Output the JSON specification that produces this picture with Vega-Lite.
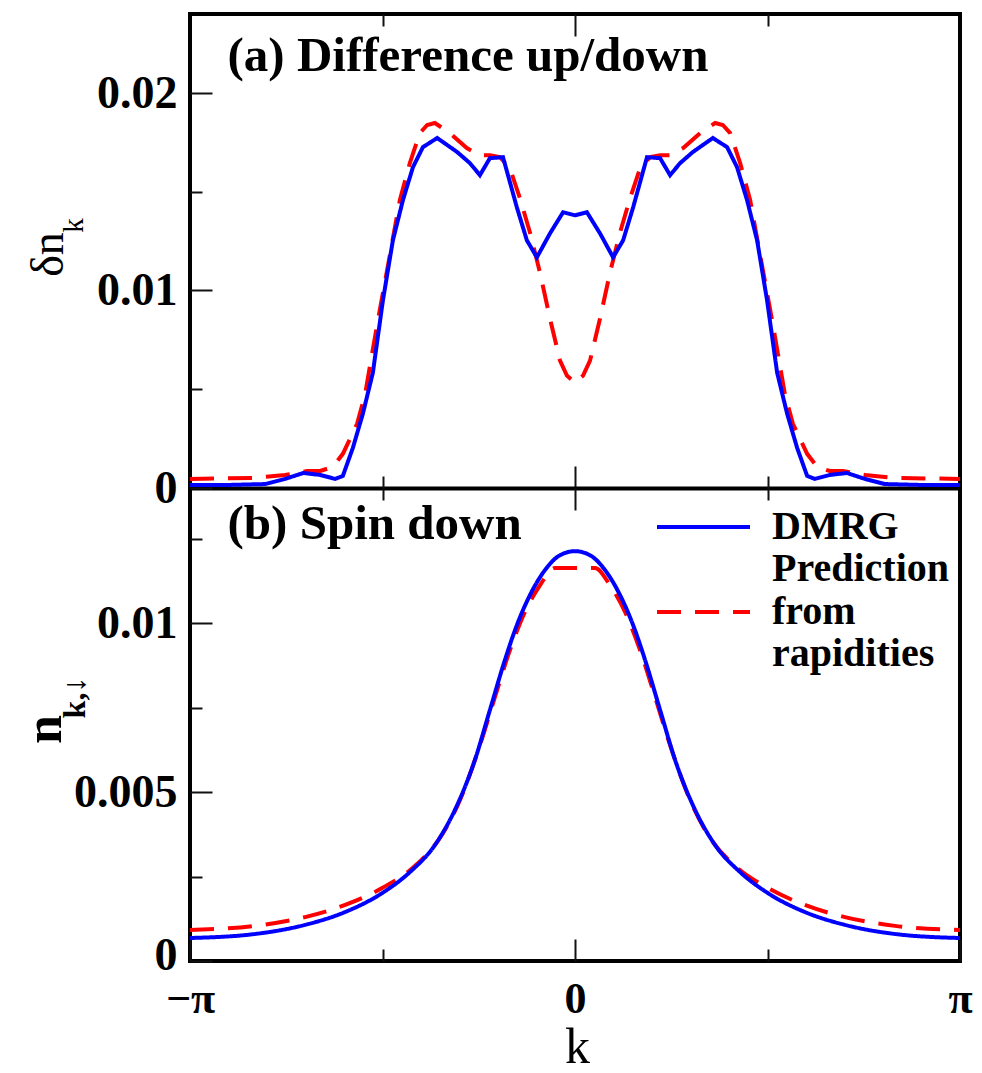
{
  "$schema": "https://vega.github.io/schema/vega-lite/v6.json",
  "width": 770,
  "height": 947,
  "autosize": {"type": "none"},
  "padding": {"left": 190, "top": 14, "right": 22, "bottom": 112},
  "background": "white",
  "config": {
    "view": {"stroke": "black", "strokeWidth": 4},
    "axis": {"grid": false, "domain": false, "tickColor": "#111111", "tickWidth": 2, "labels": false, "labelFont": "Liberation Serif", "labelFontWeight": "bold", "labelFontSize": 46, "labelColor": "black", "titleFont": "Liberation Serif", "titleColor": "black"},
    "legend": {"orient": "none", "title": null, "labelFont": "Liberation Serif", "labelFontWeight": "bold", "labelFontSize": 40, "labelColor": "black", "labelOffset": 20, "labelLimit": 500, "symbolType": "stroke", "symbolSize": 8649, "symbolStrokeWidth": 4, "rowPadding": 0}
  },
  "datasets": {
    "top": [
      {"s":"Prediction","k":-1,"v":0.00046},{"s":"Prediction","k":-0.831,"v":0.00051},{"s":"Prediction","k":-0.753,"v":0.00066},{"s":"Prediction","k":-0.696,"v":0.00086},{"s":"Prediction","k":-0.662,"v":0.00086},{"s":"Prediction","k":-0.629,"v":0.00107},{"s":"Prediction","k":-0.603,"v":0.00173},{"s":"Prediction","k":-0.566,"v":0.00325},{"s":"Prediction","k":-0.545,"v":0.00477},{"s":"Prediction","k":-0.514,"v":0.00827},{"s":"Prediction","k":-0.481,"v":0.01178},{"s":"Prediction","k":-0.455,"v":0.01457},{"s":"Prediction","k":-0.429,"v":0.01645},{"s":"Prediction","k":-0.403,"v":0.01797},{"s":"Prediction","k":-0.384,"v":0.01838},{"s":"Prediction","k":-0.364,"v":0.01848},{"s":"Prediction","k":-0.325,"v":0.01797},{"s":"Prediction","k":-0.281,"v":0.01721},{"s":"Prediction","k":-0.247,"v":0.01685},{"s":"Prediction","k":-0.221,"v":0.01685},{"s":"Prediction","k":-0.195,"v":0.01675},{"s":"Prediction","k":-0.169,"v":0.01619},{"s":"Prediction","k":-0.143,"v":0.01467},{"s":"Prediction","k":-0.117,"v":0.01294},{"s":"Prediction","k":-0.091,"v":0.01091},{"s":"Prediction","k":-0.065,"v":0.00858},{"s":"Prediction","k":-0.039,"v":0.00645},{"s":"Prediction","k":-0.021,"v":0.00569},
      {"s":"Prediction","k":0,"v":0.00533},
      {"s":"Prediction","k":0.021,"v":0.00569},{"s":"Prediction","k":0.039,"v":0.00645},{"s":"Prediction","k":0.065,"v":0.00858},{"s":"Prediction","k":0.091,"v":0.01091},{"s":"Prediction","k":0.117,"v":0.01294},{"s":"Prediction","k":0.143,"v":0.01467},{"s":"Prediction","k":0.169,"v":0.01619},{"s":"Prediction","k":0.195,"v":0.01675},{"s":"Prediction","k":0.221,"v":0.01685},{"s":"Prediction","k":0.247,"v":0.01685},{"s":"Prediction","k":0.281,"v":0.01721},{"s":"Prediction","k":0.325,"v":0.01797},{"s":"Prediction","k":0.364,"v":0.01848},{"s":"Prediction","k":0.384,"v":0.01838},{"s":"Prediction","k":0.403,"v":0.01797},{"s":"Prediction","k":0.429,"v":0.01645},{"s":"Prediction","k":0.455,"v":0.01457},{"s":"Prediction","k":0.481,"v":0.01178},{"s":"Prediction","k":0.514,"v":0.00827},{"s":"Prediction","k":0.545,"v":0.00477},{"s":"Prediction","k":0.566,"v":0.00325},{"s":"Prediction","k":0.603,"v":0.00173},{"s":"Prediction","k":0.629,"v":0.00107},{"s":"Prediction","k":0.662,"v":0.00086},{"s":"Prediction","k":0.696,"v":0.00086},{"s":"Prediction","k":0.753,"v":0.00066},{"s":"Prediction","k":0.831,"v":0.00051},{"s":"Prediction","k":1,"v":0.00046},
      {"s":"DMRG","k":-1,"v":0.00015},{"s":"DMRG","k":-0.909,"v":0.00015},{"s":"DMRG","k":-0.805,"v":0.0002},{"s":"DMRG","k":-0.753,"v":0.00046},{"s":"DMRG","k":-0.706,"v":0.00076},{"s":"DMRG","k":-0.662,"v":0.00066},{"s":"DMRG","k":-0.623,"v":0.00046},{"s":"DMRG","k":-0.603,"v":0.00061},{"s":"DMRG","k":-0.577,"v":0.00203},{"s":"DMRG","k":-0.551,"v":0.00376},{"s":"DMRG","k":-0.525,"v":0.00584},{"s":"DMRG","k":-0.499,"v":0.00949},{"s":"DMRG","k":-0.473,"v":0.01254},{"s":"DMRG","k":-0.447,"v":0.01457},{"s":"DMRG","k":-0.421,"v":0.01624},{"s":"DMRG","k":-0.395,"v":0.01726},{"s":"DMRG","k":-0.358,"v":0.01772},{"s":"DMRG","k":-0.306,"v":0.01701},{"s":"DMRG","k":-0.273,"v":0.01645},{"s":"DMRG","k":-0.247,"v":0.01584},{"s":"DMRG","k":-0.221,"v":0.0167},{"s":"DMRG","k":-0.187,"v":0.01675},{"s":"DMRG","k":-0.151,"v":0.01421},{"s":"DMRG","k":-0.125,"v":0.01254},{"s":"DMRG","k":-0.099,"v":0.01168},{"s":"DMRG","k":-0.065,"v":0.01289},{"s":"DMRG","k":-0.031,"v":0.01396},
      {"s":"DMRG","k":0,"v":0.01381},
      {"s":"DMRG","k":0.031,"v":0.01396},{"s":"DMRG","k":0.065,"v":0.01289},{"s":"DMRG","k":0.099,"v":0.01168},{"s":"DMRG","k":0.125,"v":0.01254},{"s":"DMRG","k":0.151,"v":0.01421},{"s":"DMRG","k":0.187,"v":0.01675},{"s":"DMRG","k":0.221,"v":0.0167},{"s":"DMRG","k":0.247,"v":0.01584},{"s":"DMRG","k":0.273,"v":0.01645},{"s":"DMRG","k":0.306,"v":0.01701},{"s":"DMRG","k":0.358,"v":0.01772},{"s":"DMRG","k":0.395,"v":0.01726},{"s":"DMRG","k":0.421,"v":0.01624},{"s":"DMRG","k":0.447,"v":0.01457},{"s":"DMRG","k":0.473,"v":0.01254},{"s":"DMRG","k":0.499,"v":0.00949},{"s":"DMRG","k":0.525,"v":0.00584},{"s":"DMRG","k":0.551,"v":0.00376},{"s":"DMRG","k":0.577,"v":0.00203},{"s":"DMRG","k":0.603,"v":0.00061},{"s":"DMRG","k":0.623,"v":0.00046},{"s":"DMRG","k":0.662,"v":0.00066},{"s":"DMRG","k":0.706,"v":0.00076},{"s":"DMRG","k":0.753,"v":0.00046},{"s":"DMRG","k":0.805,"v":0.0002},{"s":"DMRG","k":0.909,"v":0.00015},{"s":"DMRG","k":1,"v":0.00015}
    ],
    "bottom": [
      {"s":"Prediction","k":-1,"v":0.00092},{"s":"Prediction","k":-0.831,"v":0.00104},{"s":"Prediction","k":-0.701,"v":0.0013},{"s":"Prediction","k":-0.597,"v":0.00166},{"s":"Prediction","k":-0.501,"v":0.00216},{"s":"Prediction","k":-0.416,"v":0.00281},{"s":"Prediction","k":-0.351,"v":0.00364},{"s":"Prediction","k":-0.299,"v":0.00476},{"s":"Prediction","k":-0.247,"v":0.00639},{"s":"Prediction","k":-0.208,"v":0.00781},{"s":"Prediction","k":-0.169,"v":0.0092},{"s":"Prediction","k":-0.13,"v":0.01033},{"s":"Prediction","k":-0.091,"v":0.01112},{"s":"Prediction","k":-0.052,"v":0.01163},
      {"s":"Prediction","k":0,"v":0.01163},
      {"s":"Prediction","k":0.052,"v":0.01163},{"s":"Prediction","k":0.091,"v":0.01112},{"s":"Prediction","k":0.13,"v":0.01033},{"s":"Prediction","k":0.169,"v":0.0092},{"s":"Prediction","k":0.208,"v":0.00781},{"s":"Prediction","k":0.247,"v":0.00639},{"s":"Prediction","k":0.299,"v":0.00476},{"s":"Prediction","k":0.351,"v":0.00364},{"s":"Prediction","k":0.416,"v":0.00281},{"s":"Prediction","k":0.501,"v":0.00216},{"s":"Prediction","k":0.597,"v":0.00166},{"s":"Prediction","k":0.701,"v":0.0013},{"s":"Prediction","k":0.831,"v":0.00104},{"s":"Prediction","k":1,"v":0.00092},
      {"s":"DMRG","k":-1,"v":0.00068},{"s":"DMRG","k":-0.831,"v":0.0008},{"s":"DMRG","k":-0.701,"v":0.00107},{"s":"DMRG","k":-0.597,"v":0.00145},{"s":"DMRG","k":-0.501,"v":0.00201},{"s":"DMRG","k":-0.429,"v":0.00263},{"s":"DMRG","k":-0.364,"v":0.00343},{"s":"DMRG","k":-0.312,"v":0.00447},{"s":"DMRG","k":-0.26,"v":0.00595},{"s":"DMRG","k":-0.221,"v":0.00743},{"s":"DMRG","k":-0.182,"v":0.00891},{"s":"DMRG","k":-0.151,"v":0.00994},{"s":"DMRG","k":-0.117,"v":0.01083},{"s":"DMRG","k":-0.078,"v":0.01157},{"s":"DMRG","k":-0.039,"v":0.01201},
      {"s":"DMRG","k":0,"v":0.01213},
      {"s":"DMRG","k":0.039,"v":0.01201},{"s":"DMRG","k":0.078,"v":0.01157},{"s":"DMRG","k":0.117,"v":0.01083},{"s":"DMRG","k":0.151,"v":0.00994},{"s":"DMRG","k":0.182,"v":0.00891},{"s":"DMRG","k":0.221,"v":0.00743},{"s":"DMRG","k":0.26,"v":0.00595},{"s":"DMRG","k":0.312,"v":0.00447},{"s":"DMRG","k":0.364,"v":0.00343},{"s":"DMRG","k":0.429,"v":0.00263},{"s":"DMRG","k":0.501,"v":0.00201},{"s":"DMRG","k":0.597,"v":0.00145},{"s":"DMRG","k":0.701,"v":0.00107},{"s":"DMRG","k":0.831,"v":0.0008},{"s":"DMRG","k":1,"v":0.00068}
    ]
  },
  "layer": [
    {
      "data": {"name": "top"},
      "layer": [
        {
          "mark": {"type": "line", "strokeWidth": 4},
          "encoding": {
            "x": {"field": "k", "type": "quantitative", "scale": {"domain": [-1, 1], "nice": false, "zero": false},
              "axis": {"orient": "top", "values": [0], "tickSize": -22, "title": "(a) Difference up/down", "titleX": 37, "titleY": 56, "titleAlign": "left", "titleBaseline": "alphabetic", "titleAngle": 0, "titleFontSize": 49, "titleFontWeight": "bold"}},
            "y": {"field": "v", "type": "quantitative", "scale": {"domain": [0, 0.024], "range": [474, 0], "nice": false, "zero": false},
              "axis": {"orient": "left", "values": [0, 0.01, 0.02], "tickSize": -22, "labels": true, "format": "~g", "labelPadding": 35, "title": "δn", "titleX": -128, "titleY": 240, "titleAngle": -90, "titleAlign": "center", "titleBaseline": "alphabetic", "titleFontSize": 46, "titleFontWeight": "normal"}},
            "color": {"field": "s", "type": "nominal", "scale": {"domain": ["DMRG", "Prediction"], "range": ["#0000ff", "#ff0000"]},
              "legend": {"values": ["DMRG"], "legendX": 465, "legendY": 464.5, "labelExpr": "['DMRG', 'Prediction']"}},
            "strokeDash": {"field": "s", "type": "nominal", "scale": {"domain": ["Prediction", "DMRG"], "range": [[24, 14], [1, 0]]},
              "legend": {"values": ["Prediction"], "legendX": 465, "legendY": 549.5, "symbolStrokeColor": "#ff0000", "labelExpr": "['from', 'rapidities']"}}
          }
        },
        {
          "mark": {"type": "line", "opacity": 0},
          "encoding": {
            "x": {"field": "k", "type": "quantitative", "scale": {"domain": [-1, 1], "nice": false, "zero": false},
              "axis": {"orient": "top", "values": [-0.5, 0.5], "tickSize": -12, "title": null}},
            "y": {"field": "v", "type": "quantitative", "scale": {"domain": [0, 0.024], "range": [474, 0], "nice": false, "zero": false},
              "axis": {"orient": "left", "values": [0.005, 0.015], "tickSize": -12, "title": "k", "titleX": -108, "titleY": 211, "titleAngle": -90, "titleAlign": "center", "titleBaseline": "alphabetic", "titleFontSize": 29, "titleFontWeight": "normal"}}
          }
        },
        {
          "mark": {"type": "line", "opacity": 0},
          "encoding": {
            "x": {"field": "k", "type": "quantitative", "scale": {"domain": [-1, 1], "nice": false, "zero": false},
              "axis": {"orient": "bottom", "offset": -473, "values": [0], "tickSize": -22, "title": null, "domain": true, "domainColor": "black", "domainWidth": 4}},
            "y": {"field": "v", "type": "quantitative", "scale": {"domain": [0, 0.024], "range": [474, 0], "nice": false, "zero": false}, "axis": null}
          }
        },
        {
          "mark": {"type": "line", "opacity": 0},
          "encoding": {
            "x": {"field": "k", "type": "quantitative", "scale": {"domain": [-1, 1], "nice": false, "zero": false},
              "axis": {"orient": "bottom", "offset": -473, "values": [-0.5, 0.5], "tickSize": -12, "title": null}},
            "y": {"field": "v", "type": "quantitative", "scale": {"domain": [0, 0.024], "range": [474, 0], "nice": false, "zero": false}, "axis": null}
          }
        }
      ],
      "resolve": {"axis": {"x": "independent", "y": "independent"}}
    },
    {
      "data": {"name": "bottom"},
      "layer": [
        {
          "mark": {"type": "line", "strokeWidth": 4, "interpolate": "monotone"},
          "encoding": {
            "x": {"field": "k", "type": "quantitative", "scale": {"domain": [-1, 1], "nice": false, "zero": false},
              "axis": {"orient": "bottom", "values": [-1, 0, 1], "tickSize": -22, "labels": true, "labelExpr": "datum.value == 0 ? '0' : (datum.value < 0 ? '−π' : 'π')", "labelPadding": 38, "labelBaseline": "top", "labelFlush": false, "labelAlign": "center", "labelFontSize": 44, "title": "k", "titleX": 387, "titleY": 101, "titleAlign": "center", "titleBaseline": "alphabetic", "titleAngle": 0, "titleFontSize": 50, "titleFontWeight": "normal"}},
            "y": {"field": "v", "type": "quantitative", "scale": {"domain": [0, 0.014], "range": [947, 474], "nice": false, "zero": false},
              "axis": {"orient": "left", "values": [0, 0.005, 0.01], "tickSize": -22, "labels": true, "format": "~g", "labelPadding": 35, "labelOffset": {"condition": {"test": "datum.value == 0", "value": -6}, "value": 0}, "title": "n", "titleX": -130, "titleY": 715, "titleAngle": -90, "titleAlign": "center", "titleBaseline": "alphabetic", "titleFontSize": 52, "titleFontWeight": "bold"}},
            "color": {"field": "s", "type": "nominal", "scale": {"domain": ["DMRG", "Prediction"], "range": ["#0000ff", "#ff0000"]},
              "legend": {"values": ["DMRG"], "legendX": 465, "legendY": 464.5, "labelExpr": "['DMRG', 'Prediction']"}},
            "strokeDash": {"field": "s", "type": "nominal", "scale": {"domain": ["Prediction", "DMRG"], "range": [[24, 14], [1, 0]]},
              "legend": {"values": ["Prediction"], "legendX": 465, "legendY": 549.5, "symbolStrokeColor": "#ff0000", "labelExpr": "['from', 'rapidities']"}}
          }
        },
        {
          "mark": {"type": "line", "opacity": 0},
          "encoding": {
            "x": {"field": "k", "type": "quantitative", "scale": {"domain": [-1, 1], "nice": false, "zero": false},
              "axis": {"orient": "bottom", "values": [-0.5, 0.5], "tickSize": -12, "title": null}},
            "y": {"field": "v", "type": "quantitative", "scale": {"domain": [0, 0.014], "range": [947, 474], "nice": false, "zero": false},
              "axis": {"orient": "left", "values": [0.0025, 0.0075, 0.0125], "tickSize": -12, "title": "k,↓", "titleX": -106, "titleY": 683, "titleAngle": -90, "titleAlign": "center", "titleBaseline": "alphabetic", "titleFontSize": 32, "titleFontWeight": "bold"}}
          }
        },
        {
          "mark": {"type": "line", "opacity": 0},
          "encoding": {
            "x": {"field": "k", "type": "quantitative", "scale": {"domain": [-1, 1], "nice": false, "zero": false},
              "axis": {"orient": "top", "offset": -474, "values": [0], "tickSize": -22, "title": "(b) Spin down", "titleX": 37, "titleY": 50, "titleAlign": "left", "titleBaseline": "alphabetic", "titleAngle": 0, "titleFontSize": 49, "titleFontWeight": "bold"}},
            "y": {"field": "v", "type": "quantitative", "scale": {"domain": [0, 0.014], "range": [947, 474], "nice": false, "zero": false}, "axis": null}
          }
        },
        {
          "mark": {"type": "line", "opacity": 0},
          "encoding": {
            "x": {"field": "k", "type": "quantitative", "scale": {"domain": [-1, 1], "nice": false, "zero": false},
              "axis": {"orient": "top", "offset": -474, "values": [-0.5, 0.5], "tickSize": -12, "title": null}},
            "y": {"field": "v", "type": "quantitative", "scale": {"domain": [0, 0.014], "range": [947, 474], "nice": false, "zero": false}, "axis": null}
          }
        }
      ],
      "resolve": {"axis": {"x": "independent", "y": "independent"}}
    }
  ],
  "resolve": {"scale": {"y": "independent"}, "axis": {"x": "independent", "y": "independent"}}
}
